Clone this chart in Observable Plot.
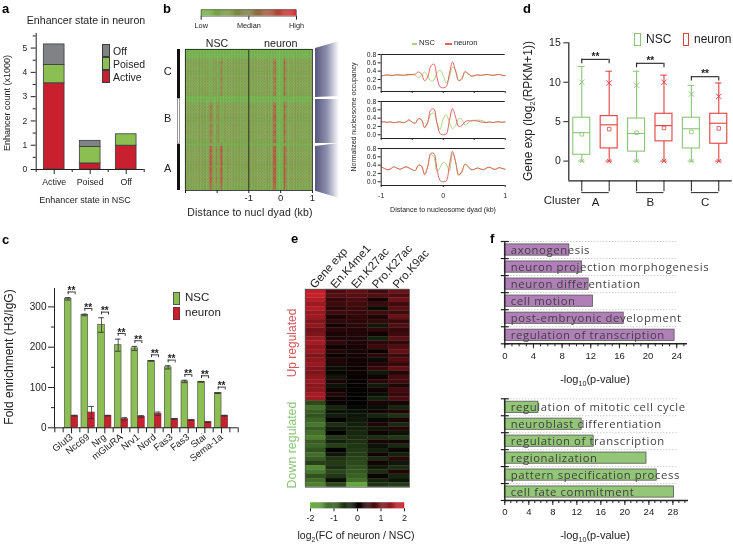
<!DOCTYPE html>
<html><head><meta charset="utf-8">
<script src="https://cdn.jsdelivr.net/npm/d3@7"></script>
<script src="https://cdn.jsdelivr.net/npm/@observablehq/plot@0.6"></script>
<style>
html,body{margin:0;padding:0;background:#fff}
#page{position:relative;width:733px;height:544px;overflow:hidden;font-family:"Liberation Sans",sans-serif;color:#222;filter:blur(0.3px)}
#page svg{position:absolute;left:0;top:0;overflow:visible;background:transparent;max-width:none}
.lb{position:absolute;white-space:nowrap;line-height:1}
.lb sub{font-size:.65em;line-height:0}
.sw{position:absolute;box-sizing:border-box}
</style></head><body><div id="page"></div>
<script>
// ---------- panel a
const stateCategories = ["Active","Poised","Off"];
const enhActive = [3.55,0.25,0.98];
const enhPoised = [0.75,0.68,0.47];
const enhOff = [0.85,0.25,0];
// ---------- panel b
const dyad = [-1,-.95,-.9,-.85,-.8,-.75,-.7,-.65,-.6,-.55,-.5,-.45,-.4,-.35,-.3,-.25,-.2,-.15,-.1,-.05,0,.05,.1,.15,.2,.25,.3,.35,.4,.45,.5,.55,.6,.65,.7,.75,.8,.85,.9,.95,1];
const occCNeuron = [.28,.30,.31,.30,.30,.31,.31,.30,.31,.32,.32,.33,.38,.33,.17,.26,.52,.57,.25,.02,0,.03,.34,.62,.4,.17,.22,.39,.34,.28,.29,.31,.30,.31,.32,.31,.30,.31,.32,.30,.29];
const occCNSC = [.28,.30,.30,.30,.30,.31,.30,.30,.30,.31,.31,.30,.24,.3,.38,.28,.16,.18,.36,.42,.3,.12,.25,.5,.42,.18,.2,.37,.34,.28,.29,.31,.30,.30,.32,.31,.30,.31,.32,.30,.29];
const occBNeuron = [.31,.31,.30,.31,.29,.30,.31,.29,.31,.36,.30,.28,.39,.36,.17,.3,.6,.62,.28,.03,0,.02,.34,.63,.42,.2,.22,.31,.34,.33,.34,.33,.31,.30,.29,.31,.29,.31,.31,.30,.31];
const occBNSC = [.31,.31,.30,.31,.29,.30,.31,.29,.31,.35,.30,.28,.38,.35,.18,.3,.5,.52,.28,.13,.38,.48,.3,.15,.22,.39,.37,.24,.28,.34,.35,.35,.35,.33,.30,.31,.29,.31,.31,.30,.31];
const occANeuron = [.36,.32,.29,.31,.36,.33,.30,.33,.36,.33,.29,.27,.4,.38,.17,.36,.68,.68,.3,.03,0,.02,.4,.73,.48,.16,.24,.42,.37,.29,.30,.33,.31,.29,.33,.35,.31,.30,.34,.32,.30];
const occANSC = [.36,.32,.29,.31,.36,.33,.30,.33,.36,.33,.29,.27,.39,.38,.18,.36,.66,.6,.25,.34,.47,.42,.25,.68,.48,.16,.24,.42,.37,.29,.30,.33,.31,.29,.33,.35,.31,.30,.34,.32,.30];
const clusterNames = ["C","B","A"];
const rowStrengthC = [.1,.15,.2,.85,1.1,.95,1.05,1,.9,1.1,1,.9,1.05,.95,1.05];
const rowStrengthB = [.15,.25,.9,1.1,1,.95,1.1,1,.9,1.05,.95,1.1,1,.9,1.05];
const rowStrengthA = [.5,1,1.1,.95,1.05,1,1.1,.9,1.05,1,.95,1.1,1,.9,.85];
// ---------- panel c
const genes = ["Glut3","Ncc69","Nrg","mGluRA","Nrv1","Nord","Fas3","Fas3","Stai","Sema-1a"];
const foldNSC = [320,280,255,205,197,166,150,115,114,86];
const foldNSCErr = [3,2,18,15,5,1,4,3,1,1];
const foldNeuron = [30,38,30,22,28,35,22,19,14,30];
const foldNeuronErr = [1,15,1,3,2,4,1,1,1,1];
// ---------- panel d
const boxGroups = ["A NSC","A neuron","B NSC","B neuron","C NSC","C neuron"];
const boxLow = [0,0,0,0,0,0];
const boxQ1 = [0.8,1.6,1.2,2.5,1.6,2.2];
const boxMedian = [3.6,4.6,3.5,4.5,4.1,4.8];
const boxQ3 = [5.5,5.7,5.4,6.0,5.5,6.0];
const boxHigh = [12,11.4,11.4,10.9,9.6,9.9];
const boxMean = [3.4,4.05,3.6,4.2,3.7,4.15];
const boxP99 = [10,9.9,9.6,10,8.5,8.2];
const sigHeights = [12.9,12.4,10.7];
// ---------- panel e
const heatColumns = ["Gene exp","En.K4me1","En.K27ac","Pro.K27ac","Pro.K9ac"];
const geneExpFC = [1.8,1.9,1.7,1.5,1.7,1.45,1.5,1.25,1.35,1.1,1.2,1.45,1.55,1.35,1.45,1.2,1.35,1.45,1.25,1.2,1.35,1.45,1.3,1.35,1.55,1.5,-.8,-1.2,-1.0,-.9,-1.1,-1.3,-1.0,-1.2,-1.4,-1.0,-1.1,-.9,-1.2,-1.0,-.7,-1.5,-1.3,-.9,-1.2,-1.4];
const enK4me1FC = [.7,.8,.5,.6,.4,.6,.3,.45,.2,.4,.25,.3,.45,.15,.35,.1,.3,.25,-.15,.1,-.25,.25,-.2,.15,.35,.1,.1,-.4,-.2,-.3,.05,-.5,-.25,.05,-.6,-.35,-.7,0,-.25,-.55,-.65,-.5,-.75,-.6,-.15,-.8];
const enK27acFC = [.9,.8,.7,.62,.55,.5,.46,.42,.38,.35,.32,.29,.26,.24,.22,.19,.17,.15,.13,.11,.09,.07,.05,.03,.02,.01,-.02,-.1,-.17,-.23,-.28,-.33,-.38,-.43,-.48,-.53,-.58,-.63,-.68,-.74,-.8,-.88,-.96,-1.05,-1.2,-1.8];
const proK27acFC = [.6,.8,.2,.55,-.15,.6,.3,.5,-.25,.45,.15,-.35,.4,.55,.1,.4,-.15,.35,.5,-.25,.15,.4,-.3,.2,-.15,-.35,.25,-.15,.2,-.4,-.1,.3,-.25,.15,-.5,.25,-.2,-.35,.15,-.45,.2,-.3,-.5,.1,-.4,-.55];
const proK9acFC = [1,.75,1.05,.6,.85,.55,1,.5,.8,.5,.6,.85,.45,.75,.95,.55,.8,.5,.9,.35,.7,.6,.3,.65,.5,.7,.2,-.4,.3,-.55,.25,-.45,.35,-.2,-.6,.2,-.45,.1,-.35,.4,-.25,-.5,.3,-.4,-.2,-.65];
// ---------- panel f
const upTerms = ["axonogenesis","neuron projection morphogenesis","neuron differentiation","cell motion","post-embryonic development","regulation of transcription"];
const upLogP = [9.0,10.8,11.7,12.3,16.6,23.7];
const downTerms = ["regulation of mitotic cell cycle","neuroblast differentiation","regulation of transcription","regionalization","pattern specification process","cell fate commitment"];
const downLogP = [5.6,12.8,14.8,23.6,25.3,28.2];

const page = document.getElementById("page");
function panel(box, opts, font){
  const svg = Plot.plot({width:733,height:544,marginLeft:box[0],marginTop:box[1],marginRight:733-box[2],marginBottom:544-box[3],
    style:{background:"transparent",fontFamily:font||"'Liberation Sans',sans-serif",color:"#222",overflow:"visible"},...opts});
  page.appendChild(svg); return svg;
}
function label(html,x,y,o={}){
  const d=document.createElement("div");d.className="lb";d.innerHTML=html;
  const ax=o.anchor==="start"?"0":"-50%";
  d.style.cssText=`left:${x}px;top:${y}px;font-size:${o.size||9}px;color:${o.color||"#222"};font-weight:${o.weight||"normal"};letter-spacing:${o.ls||0}px;font-family:${o.font||"inherit"};transform:translate(${ax},-50%) rotate(${o.rotate||0}deg)`;
  page.appendChild(d);
}
function swatch(x,y,w,h,fill,stroke){
  const d=document.createElement("div");d.className="sw";
  d.style.cssText=`left:${x}px;top:${y}px;width:${w}px;height:${h}px;background:${fill};border:1px solid ${stroke}`;
  page.appendChild(d);
}
const plain = d=>`${d}`, blank = ()=> "";
const GREEN="#8bbf52", RED="#c9202f", GREY="#808285", EDGE="#3c3c3c";

// ===== a
const aRows = stateCategories.flatMap((s,i)=>[
  {i,series:"Active",v:enhActive[i]},{i,series:"Poised",v:enhPoised[i]},{i,series:"Off",v:enhOff[i]}]).filter(d=>d.v>0);
panel([35.7,33,143.7,169],{
  x:{domain:[-.5,2.5],axis:null}, y:{domain:[0,5.6],axis:null},
  color:{domain:["Active","Poised","Off"],range:[RED,GREEN,GREY]},
  marks:[
    Plot.rectY(aRows,{x1:d=>d.i-.2875,x2:d=>d.i+.2875,y:"v",fill:"series",stroke:EDGE,strokeWidth:.8}),
    Plot.axisY({ticks:[0,1,2,3,4,5],tickFormat:plain,tickSize:5,tickPadding:4,fontSize:8.5,label:null}),
    Plot.axisY({ticks:[.5,1.5,2.5,3.5,4.5,5.5],tickFormat:blank,tickSize:3,label:null}),
    Plot.axisX({ticks:[0,1,2],tickFormat:d=>stateCategories[d],tickSize:5,tickPadding:4,fontSize:8.8,label:null}),
    Plot.axisX({ticks:[-.5,.5,1.5,2.5],tickFormat:blank,tickSize:3,label:null}),
    Plot.ruleX([-.5]),Plot.ruleY([0])
  ]});
label("Enhancer state in neuron",86,20,{size:10.6});
label("Enhancer count (x1000)",7,103,{size:9,rotate:-90});
label("Enhancer state in NSC",85,200,{size:9});
label("a",2,8,{size:13,weight:"bold",anchor:"start",color:"#000"});
swatch(102,44,7.5,13,GREY,EDGE);swatch(102,57,7.5,13,GREEN,EDGE);swatch(102,70,7.5,13,RED,EDGE);
label("Off",113,50.5,{size:10.5,anchor:"start"});label("Poised",113,63.5,{size:10.5,anchor:"start"});label("Active",113,77,{size:10.5,anchor:"start"});

// ===== b heat
const occBy = {C:{NSC:occCNSC,neuron:occCNeuron},B:{NSC:occBNSC,neuron:occBNeuron},A:{NSC:occANSC,neuron:occANeuron}};
const strengthBy = {C:rowStrengthC,B:rowStrengthB,A:rowStrengthA};
function heatRows(cond){
  return clusterNames.flatMap((c,ci)=>strengthBy[c].flatMap((w,r)=>dyad.map((x,k)=>({x,row:ci*15+r,v:occBy[c][cond][k]*w}))));
}
const heatRowDomain = d3.range(45);
[["NSC",[185,248.3]],["neuron",[248.3,312]]].forEach(([cond,r])=>{
  panel([r[0],49,r[1],190],{
    x:{type:"band",domain:dyad,padding:0,round:false,axis:null}, y:{type:"band",domain:heatRowDomain,padding:0,round:false,axis:null},
    color:{type:"linear",domain:[0,.42,.7],range:["#6fb24c","#83984c","#b5503a"],clamp:true},
    marks:[Plot.cell(heatRows(cond),{x:"x",y:"row",fill:"v",stroke:"v",strokeWidth:.3})]});
  panel([r[0],49,r[1],190],{
    x:{domain:[-1,1],axis:null}, y:{domain:[0,1],axis:null},
    marks:cond==="neuron"?[
      Plot.axisX({ticks:[-1,0,1],tickFormat:plain,tickSize:3,tickPadding:1,fontSize:9.5,label:null}),
      Plot.frame({stroke:"#222",strokeWidth:.8})]:[
      Plot.axisX({ticks:[-1,0],tickFormat:blank,tickSize:3,label:null}),
      Plot.frame({stroke:"#222",strokeWidth:.8})]});
});
panel([200.7,9.3,296,15.7],{
  x:{domain:[0,1],axis:null}, y:{domain:[0,1],axis:null},
  color:{type:"linear",domain:[0,.5,1],range:["#74b548","#7e7a43","#d8232d"]},
  marks:[Plot.rect(d3.range(0,1,.01),{x1:d=>d,x2:d=>d+.012,fill:d=>d}),
    Plot.axisX({ticks:[0,.5,1],tickFormat:d=>({0:"Low",.5:"Median",1:"High"})[d],tickSize:4,tickPadding:3,fontSize:7.3,label:null}),
    Plot.frame({stroke:"#555",strokeWidth:.6})]});
label("b",163,8,{size:13,weight:"bold",anchor:"start",color:"#000"});
label("NSC",217,43,{size:10.6});label("neuron",280.7,43,{size:10.8});
clusterNames.forEach((c,i)=>label(c,167.7,[71,118,168][i],{size:11}));
swatch(176.7,48.7,3.4,49.5,"#111","#111");swatch(176.7,98,3.4,46,"#fff","#999");swatch(176.7,144,3.4,46,"#111","#111");
label("Distance to nucl dyad (kb)",250,211.5,{size:10.5,ls:.15});

// ===== b callout wedges
const wedgeRows = [
  {c:"C",x:0,y1:48,y2:97},{c:"C",x:1,y1:41,y2:96},
  {c:"B",x:0,y1:99,y2:143},{c:"B",x:1,y1:99,y2:143},
  {c:"A",x:0,y1:146,y2:190.7},{c:"A",x:1,y1:143,y2:198}];
panel([315,41,339,198],{
  x:{domain:[0,1],axis:null}, y:{domain:[198,41],axis:null},
  marks:[()=>{const s=d3.create("svg:defs");const g=s.append("linearGradient").attr("id","fade");
      g.append("stop").attr("offset","0").attr("stop-color","#56587f");
      g.append("stop").attr("offset",".5").attr("stop-color","#8f90ae");
      g.append("stop").attr("offset","1").attr("stop-color","#fff");return s.node();},
    Plot.areaY(wedgeRows,{x:"x",y1:"y1",y2:"y2",z:"c",fill:"url(#fade)"})]});

// ===== b lines
[[54,91,"C"],[101,138,"B"],[148,185,"A"]].forEach(([t,b,c],i)=>{
  const rows=[...dyad.map((x,k)=>({x,y:occBy[c].NSC[k],s:"NSC"})),...dyad.map((x,k)=>({x,y:occBy[c].neuron[k],s:"neuron"}))];
  panel([380.7,t,504.7,b],{
    x:{domain:[-1,1],axis:null}, y:{domain:[-.09,.8],axis:null},
    marks:[
      Plot.line(rows,{x:"x",y:"y",z:"s",stroke:d=>d.s==="NSC"?"#a9d17e":"#e2625c",curve:"catmull-rom",strokeWidth:1}),
      Plot.axisY({ticks:[0,.2,.4,.6,.8],tickFormat:d3.format(".1f"),tickSize:3,tickPadding:2,fontSize:6.8,label:null}),
      Plot.axisX({anchor:"bottom",ticks:i===2?[-1,0,1]:[-1,-.5,0,.5,1],tickFormat:i===2?plain:blank,tickSize:2,tickPadding:6,fontSize:7,label:null}),
      Plot.ruleX([-1],{strokeWidth:1}),Plot.ruleY([.8],{strokeWidth:1}),Plot.ruleY([-.09],{strokeWidth:1})
    ]});
});
swatch(412,42.5,5,1,"#a9d17e","#a9d17e");label("NSC",419,42.7,{size:7.5,anchor:"start"});
swatch(445,42.5,7,1,"#e2625c","#e2625c");label("neuron",454,42.7,{size:7.5,anchor:"start"});
label("Normalized nucleosome occupancy",354,117,{size:6.9,rotate:-90});
label("Distance to nucleosome dyad (kb)",443,209,{size:7});

// ===== c
const cNSC = genes.map((g,i)=>({i,v:foldNSC[i],e:foldNSCErr[i]}));
const cNeu = genes.map((g,i)=>({i,v:foldNeuron[i],e:foldNeuronErr[i]}));
const errMarks = (rows,off)=>[
  Plot.ruleX(rows,{x:d=>d.i+off,y1:d=>d.v-d.e,y2:d=>d.v+d.e,strokeWidth:.8,stroke:"#333"}),
  Plot.ruleY(rows,{x1:d=>d.i+off-.17,x2:d=>d.i+off+.17,y:d=>d.v+d.e,strokeWidth:.9,stroke:"#333"}),
  Plot.ruleY(rows,{x1:d=>d.i+off-.17,x2:d=>d.i+off+.17,y:d=>d.v-d.e,strokeWidth:.9,stroke:"#333"})];
const sigTop = d=>d.v+d.e+14;
panel([54,288,237.7,427.3],{
  x:{domain:[-1.02,10],axis:null}, y:{domain:[0,345.6],axis:null},
  marks:[
    Plot.rectY(cNSC,{x1:d=>d.i-.4,x2:d=>d.i,y:"v",fill:GREEN,stroke:"#555",strokeWidth:.7}),
    Plot.rectY(cNeu,{x1:d=>d.i,x2:d=>d.i+.4,y:"v",fill:RED,stroke:"#7a2a2a",strokeWidth:.5}),
    ...errMarks(cNSC,-.2),...errMarks(cNeu,.2),
    Plot.ruleY(cNSC,{x1:d=>d.i-.2,x2:d=>d.i+.22,y:sigTop,strokeWidth:.9}),
    Plot.ruleX(cNSC,{x:d=>d.i-.2,y1:d=>sigTop(d)-7,y2:sigTop,strokeWidth:.9}),
    Plot.ruleX(cNSC,{x:d=>d.i+.22,y1:d=>sigTop(d)-7,y2:sigTop,strokeWidth:.9}),
    Plot.text(cNSC,{x:"i",y:sigTop,text:()=>"**",dy:-1,fontSize:10,fontWeight:"bold",lineAnchor:"middle"}),
    Plot.axisY({ticks:[0,100,200,300],tickFormat:plain,tickSize:6,tickPadding:2,fontSize:10,label:null}),
    Plot.axisY({ticks:[50,150,250],tickFormat:blank,tickSize:3,label:null}),
    Plot.axisX({ticks:d3.range(10),tickFormat:i=>genes[i],tickSize:6,tickPadding:2,tickRotate:-38,fontSize:9.5,label:null}),
    Plot.axisX({ticks:[-1,-.5,.5,1.5,2.5,3.5,4.5,5.5,6.5,7.5,8.5,9.5,10],tickFormat:blank,tickSize:5,label:null}),
    Plot.ruleX([-1.02]),Plot.ruleY([0])
  ]});
label("c",2,239,{size:13,weight:"bold",anchor:"start",color:"#000"});
label("Fold enrichment (H3/IgG)",9,357,{size:12,rotate:-90});
swatch(173,291.7,6.5,13.3,GREEN,"#555");swatch(173,306.7,6.5,13.3,RED,"#7a2a2a");
label("NSC",185,298,{size:11.5,anchor:"start"});label("neuron",185,313,{size:11.5,anchor:"start"});

// ===== d
const dRows = boxGroups.map((g,i)=>({i,nsc:i%2===0,lo:boxLow[i],q1:boxQ1[i],med:boxMedian[i],q3:boxQ3[i],hi:boxHigh[i],mean:boxMean[i],p:boxP99[i]}));
const DG="#8cc477",DR="#e0413f";
const dColor = d=>d.nsc?"A":"B";
panel([568.3,42.3,731.7,180.3],{
  x:{domain:[-.474,5.49],axis:null}, y:{domain:[-2.5,15],axis:null},
  color:{domain:["A","B"],range:[DG,DR]},
  marks:[
    Plot.ruleX(dRows,{x:"i",y1:"lo",y2:"q1",stroke:dColor,strokeWidth:1.1}),
    Plot.ruleX(dRows,{x:"i",y1:"q3",y2:"hi",stroke:dColor,strokeWidth:1.1}),
    Plot.ruleY(dRows,{x1:d=>d.i-.12,x2:d=>d.i+.12,y:"hi",stroke:dColor,strokeWidth:1}),
    Plot.ruleY(dRows,{x1:d=>d.i-.12,x2:d=>d.i+.12,y:"lo",stroke:dColor,strokeWidth:1}),
    Plot.rect(dRows,{x1:d=>d.i-.31,x2:d=>d.i+.31,y1:"q1",y2:"q3",stroke:dColor,fill:"white",strokeWidth:1.1}),
    Plot.ruleY(dRows,{x1:d=>d.i-.31,x2:d=>d.i+.31,y:"med",stroke:dColor,strokeWidth:1.1}),
    Plot.dot(dRows,{x:"i",y:"mean",symbol:"square",r:2,stroke:dColor,strokeWidth:.8}),
    Plot.dot(dRows,{x:"i",y:"p",symbol:"times",r:2.6,stroke:dColor,strokeWidth:.9}),
    Plot.dot(dRows,{x:"i",y:"lo",symbol:"times",r:2.2,stroke:dColor,strokeWidth:.9}),
    Plot.ruleY(sigHeights,{x1:(d,k)=>k*2,x2:(d,k)=>k*2+1,y:d=>d,strokeWidth:1.1}),
    Plot.ruleX(sigHeights,{x:(d,k)=>k*2,y1:d=>d-.55,y2:d=>d,strokeWidth:1.1}),
    Plot.ruleX(sigHeights,{x:(d,k)=>k*2+1,y1:d=>d-.55,y2:d=>d,strokeWidth:1.1}),
    Plot.text(sigHeights,{x:(d,k)=>k*2+.5,y:d=>d,text:()=>"**",dy:-3,fontSize:10,fontWeight:"bold",lineAnchor:"middle"}),
    Plot.axisY({ticks:[0,5,10,15],tickFormat:plain,tickSize:5,tickPadding:3,fontSize:10.5,label:null}),
    Plot.axisX({ticks:[0,1,2,3,4,5],tickFormat:blank,tickSize:11,label:null}),
    Plot.ruleY([-4,-4,-4],{x1:(d,k)=>k*2,x2:(d,k)=>k*2+1,strokeWidth:1}),
    Plot.text(["A","B","C"],{x:(d,k)=>k*2+.5,y:-5.2,text:d=>d,fontSize:11.5}),
    Plot.ruleX([-.474],{strokeWidth:1.2}),Plot.ruleY([-2.5],{strokeWidth:1.2})
  ]});
label("d",523,8,{size:13,weight:"bold",anchor:"start",color:"#000"});
label("Cluster",562,201,{size:11.5});
label("Gene exp (log<sub>2</sub>(RPKM+1))",528,111,{size:12,rotate:-90});
swatch(634,33,6.7,12.7,"#fff",DG);swatch(682.7,33,6.7,12.7,"#fff",DR);
label("NSC",646,39,{size:12,anchor:"start"});label("neuron",694,39,{size:12,anchor:"start"});

// ===== e
const heatSeries=[geneExpFC,enK4me1FC,enK27acFC,proK27acFC,proK9acFC];
const eRows=heatColumns.flatMap((c,ci)=>heatSeries[ci].map((v,row)=>({c,row,v})));
const eColor={type:"linear",domain:[-2,0,2],range:["#6fb745","#000000","#d2232d"],clamp:true};
panel([305,289,409,486.7],{
  x:{type:"band",domain:heatColumns,padding:0,round:false,axis:null}, y:{type:"band",domain:d3.range(geneExpFC.length),padding:0,round:false,axis:null},
  color:eColor,
  marks:[Plot.cell(eRows,{x:"c",y:"row",fill:"v",stroke:"v",strokeWidth:.3}),
    Plot.axisX({anchor:"top",tickRotate:-48,tickSize:0,tickPadding:3,fontSize:11.5,label:null,dx:-4}),
    Plot.frame({stroke:"#555",strokeWidth:.8})]});
panel([310,502.3,404,508.3],{
  x:{domain:[-2,2],axis:null}, y:{domain:[0,1],axis:null}, color:eColor,
  marks:[Plot.rect(d3.range(-2,2,.04),{x1:d=>d,x2:d=>d+.05,fill:d=>d}),
    Plot.axisX({ticks:[-2,-1,0,1,2],tickFormat:plain,tickSize:3,tickPadding:3,fontSize:9,label:null})]});
label("e",291,238,{size:13,weight:"bold",anchor:"start",color:"#000"});
label("Up regulated",292,343,{size:12,rotate:-90,color:"#d4555a"});
label("Down regulated",292,445,{size:12.4,rotate:-90,color:"#8cc477"});
label("log<sub>2</sub>(FC of neuron / NSC)",356,535,{size:10.5});

// ===== f
function goPanel(box,terms,vals,xMax,majors,fill){
  const rows=terms.map((t,i)=>({t,i,v:vals[i]}));
  const wholeTicks=d3.range(0,Math.floor(xMax)+1);
  const pxPerUnit=(box[2]-box[0])/xMax;
  panel(box,{
    x:{domain:[0,xMax],axis:null}, y:{domain:[6,0],axis:null},
    marks:[
      Plot.ruleY(d3.range(0,6),{x1:0,x2:xMax*.94,stroke:"#999",strokeWidth:.7,strokeDasharray:"1,2"}),
      Plot.rect(rows,{x1:0,x2:"v",y1:d=>d.i+.17,y2:d=>d.i+.83,fill,stroke:"#555",strokeWidth:.8}),
      Plot.ruleY(d3.range(0,7),{x1:-3.5/pxPerUnit,x2:4.5/pxPerUnit,strokeWidth:1.2}),
      Plot.axisX({ticks:majors,tickFormat:plain,tickSize:5,tickPadding:3,fontSize:9.5,label:null}),
      Plot.axisX({ticks:wholeTicks,tickFormat:blank,tickSize:3,label:null}),
      Plot.ruleX([0],{strokeWidth:1.4}),Plot.ruleY([6],{strokeWidth:1.4})
    ]});
  panel(box,{
    x:{domain:[0,xMax],axis:null}, y:{domain:[6,0],axis:null},
    style:{background:"transparent",fontFamily:"'Open Sans',sans-serif",letterSpacing:"0.6px",overflow:"visible"},
    marks:[Plot.text(rows,{x:0,y:d=>d.i+.5,text:"t",textAnchor:"start",dx:6,fontSize:11.3,fill:"#3f3f3f",lineAnchor:"middle"})]});
}
goPanel([504.3,241,687,343.3],upTerms,upLogP,25.5,[0,4,8,12,16,20,24],"#b07fb8");
goPanel([504.3,398.3,688,500],downTerms,downLogP,30.6,[0,4,8,12,16,20,24,28],"#93c777");
label("f",490,238,{size:13,weight:"bold",anchor:"start",color:"#000"});
label("-log<sub>10</sub>(p-value)",595,379,{size:11});
label("-log<sub>10</sub>(p-value)",595,535,{size:11});
</script></body></html>
